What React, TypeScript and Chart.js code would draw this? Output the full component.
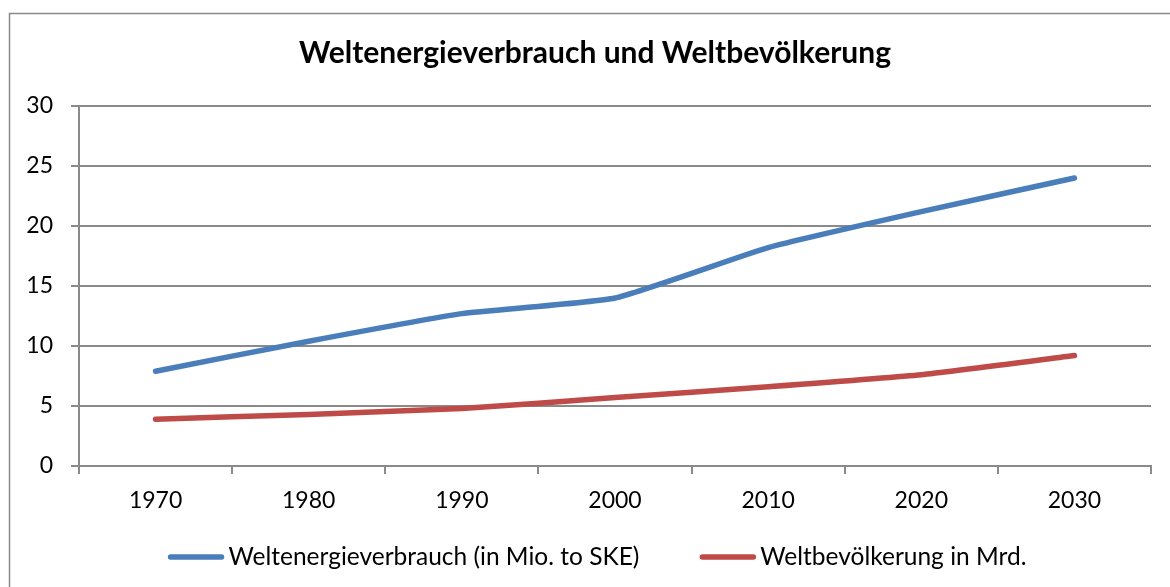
import React, { useEffect, useRef } from "react";
import { Chart, registerables } from "chart.js";

Chart.register(...registerables);

const years = ["1970", "1980", "1990", "2000", "2010", "2020", "2030"];
const energy = [7.9, 10.4, 12.7, 14.0, 18.2, 21.2, 24.0];
const population = [3.9, 4.3, 4.8, 5.7, 6.6, 7.6, 9.2];
const titleText = "Weltenergieverbrauch und Weltbevölkerung";
const energyLabel = "Weltenergieverbrauch (in Mio. to SKE)";
const populationLabel = "Weltbevölkerung in Mrd.";

const FONT = "Lato, 'Open Sans', sans-serif";
const GRID = "#8a8a8a";

const borderPlugin = {
  id: "outerBorder",
  beforeDraw(chart: any) {
    const ctx = chart.ctx;
    ctx.save();
    ctx.fillStyle = "#ffffff";
    ctx.fillRect(0, 0, chart.width, chart.height);
    ctx.strokeStyle = GRID;
    ctx.lineWidth = 1.5;
    ctx.strokeRect(9.5, 13.5, 1300, 800);
    ctx.restore();
  },
};

// Legend drawn from the datasets: a short line sample followed by the label
const lineLegendPlugin = {
  id: "lineLegend",
  afterDraw(chart: any) {
    const ctx = chart.ctx;
    const sampleW = 57;
    const textGap = 4;
    const itemGap = 60;
    const centerX = 597;
    const centerY = 557;
    ctx.save();
    ctx.font = `24.5px ${FONT}`;
    const items = chart.data.datasets.map((ds: any) => ({
      text: ds.label as string,
      color: ds.borderColor as string,
      lw: ds.borderWidth as number,
      w: ctx.measureText(ds.label).width,
    }));
    const total =
      items.reduce((s: number, it: any) => s + sampleW + textGap + it.w, 0) +
      itemGap * (items.length - 1);
    let x = centerX - total / 2;
    ctx.textBaseline = "middle";
    ctx.textAlign = "left";
    for (const it of items) {
      ctx.strokeStyle = it.color;
      ctx.lineWidth = it.lw;
      ctx.lineCap = "round";
      ctx.beginPath();
      ctx.moveTo(x + 3, centerY);
      ctx.lineTo(x + sampleW - 3, centerY);
      ctx.stroke();
      ctx.fillStyle = "#000";
      ctx.fillText(it.text, x + sampleW + textGap, centerY);
      x += sampleW + textGap + it.w + itemGap;
    }
    ctx.restore();
  },
};

export default function App() {
  const ref = useRef<HTMLCanvasElement | null>(null);
  useEffect(() => {
    document.body.style.margin = "0";
    const canvas = ref.current!;
    const chart = new Chart(canvas, {
      type: "line",
      data: {
        labels: years,
        datasets: [
          {
            label: energyLabel,
            data: energy,
            borderColor: "#4A7EBB",
            backgroundColor: "#4A7EBB",
            borderWidth: 5.5,
            borderCapStyle: "round",
            pointRadius: 0,
            tension: 0.15,
            yAxisID: "y",
          },
          {
            label: populationLabel,
            data: population,
            borderColor: "#BE4B48",
            backgroundColor: "#BE4B48",
            borderWidth: 5.5,
            borderCapStyle: "round",
            pointRadius: 0,
            tension: 0.15,
            yAxisID: "y",
          },
        ],
      },
      options: {
        animation: false,
        responsive: false,
        layout: { padding: { left: 20, right: 0, top: 0, bottom: 71 } },
        plugins: {
          title: {
            display: true,
            text: titleText,
            color: "#000",
            font: { family: FONT, size: 30, weight: "bold", lineHeight: 1.2 },
            padding: { top: 35, bottom: 35 },
          },
          legend: { display: false },
          tooltip: { enabled: false },
        },
        scales: {
          x: {
            type: "category",
            offset: true,
            grid: {
              offset: true,
              drawOnChartArea: false,
              drawTicks: true,
              tickLength: 8,
              color: GRID,
              lineWidth: 2,
            },
            border: { color: GRID, width: 2 },
            ticks: { color: "#000", padding: 13, font: { family: FONT, size: 23 } },
            afterFit(scale: any) {
              scale.height = 50;
            },
          },
          y: {
            position: "left",
            min: 0,
            max: 30,
            ticks: { stepSize: 5, color: "#000", padding: 18, font: { family: FONT, size: 23 } },
            grid: { color: GRID, lineWidth: 2, tickLength: 8, drawTicks: true },
            border: { color: GRID, width: 2 },
            afterFit(scale: any) {
              scale.width = 59;
            },
          },
          yRight: {
            type: "linear",
            position: "right",
            display: true,
            grid: { display: false, drawTicks: false },
            border: { display: false },
            ticks: { display: false },
            afterFit(scale: any) {
              scale.width = 19;
            },
          },
        },
      },
      plugins: [borderPlugin, lineLegendPlugin],
    } as any);
    return () => chart.destroy();
  }, []);
  return (
    <div style={{ width: 1170, height: 587 }}>
      <canvas ref={ref} width={1170} height={587} style={{ display: "block" }} />
    </div>
  );
}
